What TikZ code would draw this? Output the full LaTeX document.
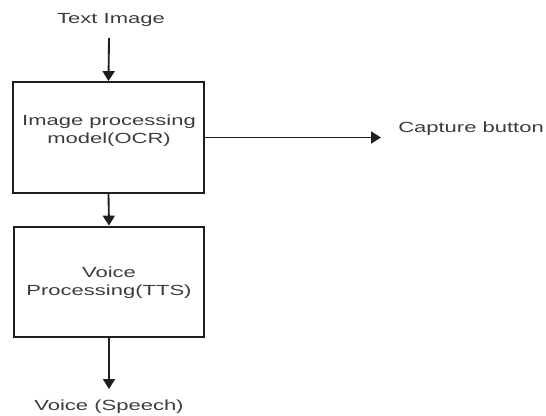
\documentclass[tikz,border=0pt]{standalone}
\usepackage{fontspec}
\setmainfont{Liberation Sans}
\usetikzlibrary{arrows.meta}
\definecolor{txt}{HTML}{3C3C3C}
\definecolor{ln}{HTML}{1E1E1E}
\newcommand{\sx}[1]{\scalebox{1.5}[1]{#1}}
\begin{document}
\begin{tikzpicture}[x=0.75pt,y=-0.75pt,
  lbl/.style={inner sep=0pt,text=txt,font=\fontsize{11}{13.5}\selectfont},
  blk/.style={draw=ln,line width=1.6pt,minimum width=143pt,minimum height=83pt,inner sep=0pt,text=txt,font=\fontsize{11}{13.5}\selectfont},
  arr/.style={draw=ln,line width=1.4pt,-{Triangle[length=7.5pt,width=9pt]}}]
\useasboundingbox (0,0) rectangle (546,415);
\node[lbl] (ti) at (111,20) {\sx{Text Image}};
\node[blk] (b1) at (108.5,137.5) {};
\node[lbl] at (109,131) {\sx{\begin{tabular}{@{}c@{}}Image processing\\model(OCR)\end{tabular}}};
\node[blk] (b2) at (109,282) {};
\node[lbl] at (109,283) {\sx{\begin{tabular}{@{}c@{}}Voice\\Processing(TTS)\end{tabular}}};
\node[lbl,anchor=west] (cap) at (398,129) {\sx{Capture button}};
\node[lbl] (vs) at (109,407) {\sx{Voice (Speech)}};
\coordinate (tiend) at (109,38);
\coordinate (capend) at (381,137.5);
\coordinate (vsend) at (109,389);
\draw[arr] (tiend) -- (b1.north);
\draw[arr] (b1.south) -- (b2.north);
\draw[arr] (b1.east) -- (capend);
\draw[arr] (b2.south) -- (vsend);
\end{tikzpicture}
\end{document}
